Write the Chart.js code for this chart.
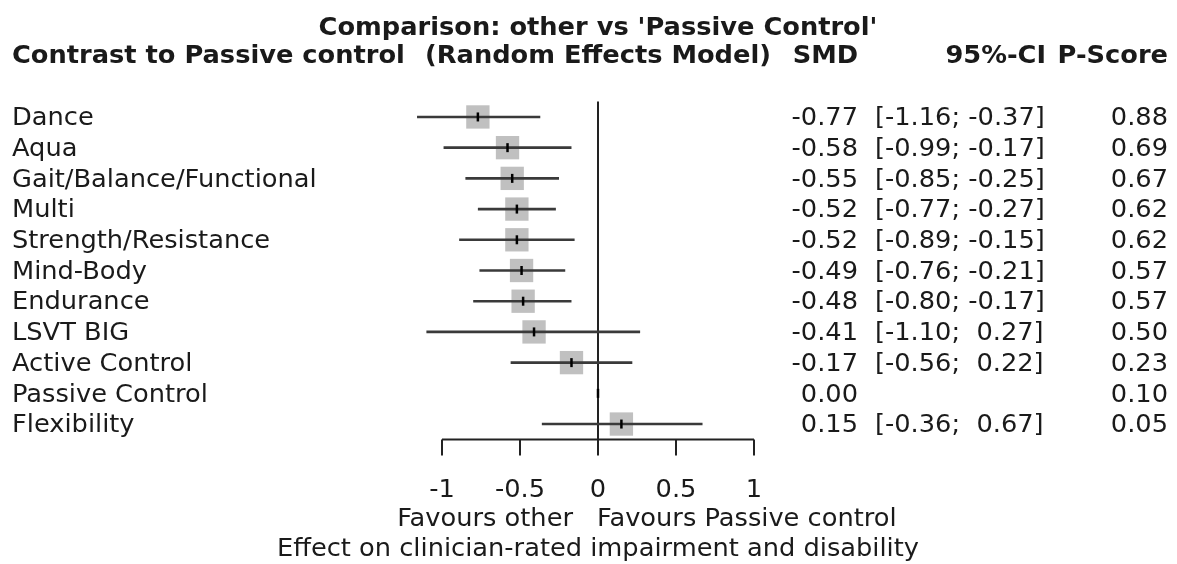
<!DOCTYPE html>
<html>
<head>
<meta charset="utf-8">
<script src="https://cdn.jsdelivr.net/npm/chart.js@4.4.1/dist/chart.umd.min.js"></script>
<style>
  body { margin: 0; background: #fff; }
  #forest { display: block; }
</style>
</head>
<body>
<canvas id="forest" width="1177" height="564"></canvas>
<script>
// forest plot data
let treatments = ['Dance', 'Aqua', 'Gait/Balance/Functional', 'Multi', 'Strength/Resistance',
  'Mind-Body', 'Endurance', 'LSVT BIG', 'Active Control', 'Passive Control', 'Flexibility'];
let smd = [-0.77, -0.58, -0.55, -0.52, -0.52, -0.49, -0.48, -0.41, -0.17, 0.00, 0.15];
let lower = [-1.16, -0.99, -0.85, -0.77, -0.89, -0.76, -0.80, -1.10, -0.56, null, -0.36];
let upper = [-0.37, -0.17, -0.25, -0.27, -0.15, -0.21, -0.17, 0.27, 0.22, null, 0.67];
let pscore = [0.88, 0.69, 0.67, 0.62, 0.62, 0.57, 0.57, 0.50, 0.23, 0.10, 0.05];
let xTicks = [-1, -0.5, 0, 0.5, 1];
let xTickLabels = ['-1', '-0.5', '0', '0.5', '1'];

const FONT = '"DejaVu Sans", sans-serif';
const INK = '#1a1a1a';
const STRETCH = 1.07; // the original text is a little wider than plain DejaVu

let ciLine = [];
let points = [];
let squares = [];
treatments.forEach((t, i) => {
  points.push({x: smd[i], y: i});
  squares.push({x: smd[i], y: i});
  if (lower[i] !== null) {
    // gap point (null) breaks the line between rows
    ciLine.push({x: lower[i], y: i}, {x: upper[i], y: i}, {x: null, y: null});
  }
});

function fmt(v) {
  return v.toFixed(2);
}
function ciText(i) {
  if (lower[i] === null) return '';
  let hi = upper[i] >= 0 ? ' ' + fmt(upper[i]) : fmt(upper[i]);
  return '[' + fmt(lower[i]) + '; ' + hi + ']';
}
function text(ctx, str, x, y, align) {
  ctx.save();
  ctx.translate(x, y);
  ctx.scale(STRETCH, 1);
  ctx.textAlign = align;
  ctx.fillText(str, 0, 0);
  ctx.restore();
}

const forestText = {
  id: 'forestText',
  beforeDatasetsDraw(chart) {
    const ctx = chart.ctx;
    const x = chart.scales.x;
    const area = chart.chartArea;
    // line of no effect
    ctx.save();
    ctx.strokeStyle = '#222';
    ctx.lineWidth = 2;
    ctx.beginPath();
    ctx.moveTo(x.getPixelForValue(0), area.top);
    ctx.lineTo(x.getPixelForValue(0), area.bottom);
    ctx.stroke();
    ctx.restore();
  },
  afterDraw(chart) {
    const ctx = chart.ctx;
    const x = chart.scales.x;
    const y = chart.scales.y;
    const area = chart.chartArea;
    const x0 = x.getPixelForValue(0);
    ctx.save();
    ctx.fillStyle = INK;
    ctx.textBaseline = 'middle';

    // titles
    ctx.font = 'bold 24px ' + FONT;
    text(ctx, "Comparison: other vs 'Passive Control'", x0, 29, 'center');
    text(ctx, '(Random Effects Model)', x0, 57, 'center');
    text(ctx, 'Contrast to Passive control', 12, 57, 'left');
    text(ctx, 'SMD', 858, 57, 'right');
    text(ctx, '95%-CI', 1046, 57, 'right');
    text(ctx, 'P-Score', 1168, 57, 'right');

    // rows
    ctx.font = '24px ' + FONT;
    treatments.forEach((t, i) => {
      const py = y.getPixelForValue(i) + 2;
      text(ctx, t, 12, py, 'left');
      text(ctx, fmt(smd[i]), 858, py, 'right');
      text(ctx, ciText(i), 875, py, 'left');
      text(ctx, fmt(pscore[i]), 1168, py, 'right');
    });

    // x axis
    ctx.strokeStyle = '#222';
    ctx.lineWidth = 2;
    ctx.beginPath();
    ctx.moveTo(x.getPixelForValue(xTicks[0]), area.bottom);
    ctx.lineTo(x.getPixelForValue(xTicks[xTicks.length - 1]), area.bottom);
    xTicks.forEach(v => {
      ctx.moveTo(x.getPixelForValue(v), area.bottom);
      ctx.lineTo(x.getPixelForValue(v), area.bottom + 16);
    });
    ctx.stroke();
    xTicks.forEach((v, i) => {
      text(ctx, xTickLabels[i], x.getPixelForValue(v), area.bottom + 51, 'center');
    });
    text(ctx, 'Favours other', x0 - 25, area.bottom + 80, 'right');
    text(ctx, 'Favours Passive control', x0 - 1, area.bottom + 80, 'left');
    text(ctx, 'Effect on clinician-rated impairment and disability', x0, area.bottom + 110, 'center');
    ctx.restore();
  }
};

let forestChart = new Chart(document.getElementById('forest').getContext('2d'), {
  type: 'scatter',
  data: {
    datasets: [{
      label: 'estimate',
      data: points,
      pointStyle: 'line',
      rotation: 90,
      pointRadius: 4.5,
      borderWidth: 2.5,
      borderColor: '#000',
      order: 1,
      clip: false
    }, {
      label: '95%-CI',
      type: 'line',
      data: ciLine,
      showLine: true,
      spanGaps: false,
      pointRadius: 0,
      borderColor: '#3a3a3a',
      borderWidth: 2.6,
      order: 2,
      clip: false
    }, {
      label: 'weight',
      data: squares,
      pointStyle: 'rect',
      pointRadius: treatments.map((t, i) => lower[i] === null ? 0 : 16.5),
      backgroundColor: '#c0c0c0',
      borderWidth: 0,
      order: 3,
      clip: false
    }]
  },
  options: {
    responsive: false,
    animation: false,
    events: [],
    layout: { padding: { left: 442, right: 423, top: 101.6, bottom: 124.6 } },
    scales: {
      x: { type: 'linear', min: -1, max: 1, display: false },
      y: { type: 'linear', min: -0.5, max: 10.5, reverse: true, display: false }
    },
    plugins: { legend: { display: false }, tooltip: { enabled: false } }
  },
  plugins: [forestText]
});
</script>
</body>
</html>
